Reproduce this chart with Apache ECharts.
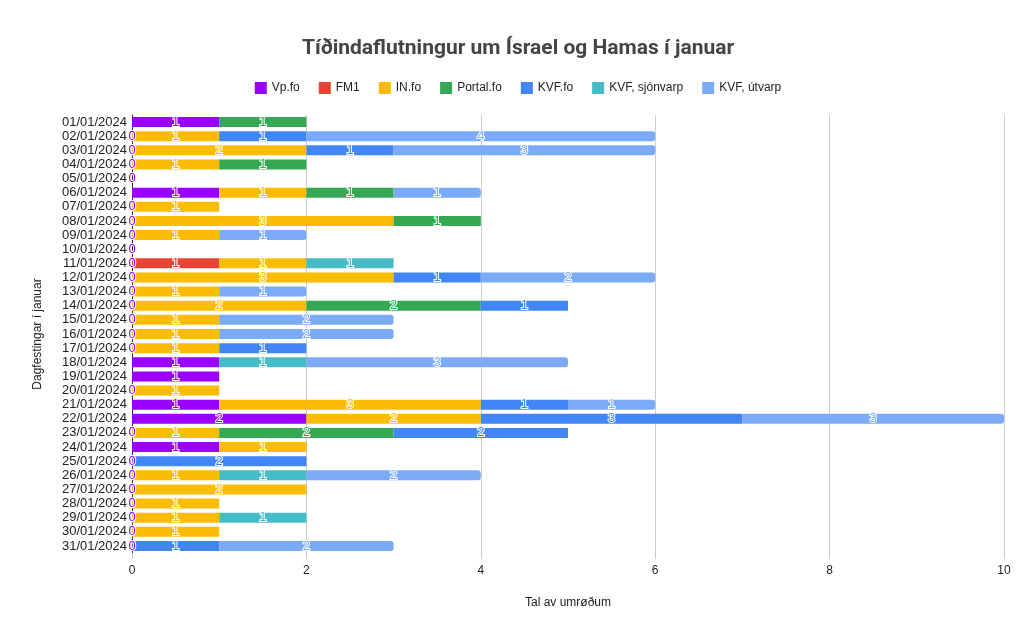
<!DOCTYPE html>
<html>
<head>
<meta charset="utf-8">
<script src="https://cdn.jsdelivr.net/npm/echarts@6/dist/echarts.min.js"></script>
<style>
  html, body { margin: 0; padding: 0; background: #fff; }
  #chart { width: 1036px; height: 640px; }
</style>
</head>
<body>
<div id="chart"></div>
<script>
// dagar í januar
const days = [];
for (let d = 1; d <= 31; d++) {
  days.push((d < 10 ? '0' + d : '' + d) + '/01/2024');
}

// tal av umrøðum per miðil (null = eingin)
const vpFo      = [1,0,0,0,0,1,0,0,0,0,0,0,0,0,0,0,0,1,1,0,1,2,0,1,0,0,0,0,0,0,0];
const fm1       = [null,null,null,null,null,null,null,null,null,null,1,null,null,null,null,null,null,null,null,null,null,null,null,null,null,null,null,null,null,null,null];
const inFo      = [null,1,2,1,null,1,1,3,1,null,1,3,1,2,1,1,1,null,null,1,3,2,1,1,null,1,2,1,1,1,null];
const portalFo  = [1,null,null,1,null,1,null,1,null,null,null,null,null,2,null,null,null,null,null,null,null,null,2,null,null,null,null,null,null,null,null];
const kvfFo     = [null,1,1,null,null,null,null,null,null,null,null,1,null,1,null,null,1,null,null,null,1,3,2,null,2,null,null,null,null,null,1];
const kvfSjon   = [null,null,null,null,null,null,null,null,null,null,1,null,null,null,null,null,null,1,null,null,null,null,null,null,null,1,null,null,1,null,null];
const kvfUtvarp = [null,4,3,null,null,1,null,null,1,null,null,2,1,null,2,2,null,3,null,null,1,3,null,null,null,2,null,null,null,null,2];

const seriesNames = ['Vp.fo', 'FM1', 'IN.fo', 'Portal.fo', 'KVF.fo', 'KVF, sjónvarp', 'KVF, útvarp'];
const seriesData = [vpFo, fm1, inFo, portalFo, kvfFo, kvfSjon, kvfUtvarp];
const colors = ['#9900ff', '#ea4335', '#fbbc04', '#34a853', '#4285f4', '#46bdc6', '#7baaf7'];
const font = 'Arial, "Liberation Sans", sans-serif';

const chart = echarts.init(document.getElementById('chart'));

const series = seriesNames.map(function (name, i) {
  return {
    name: name,
    type: 'bar',
    stack: 'total',
    barWidth: 10,
    itemStyle: {
      color: colors[i],
      borderRadius: i === 6 ? [0, 3, 3, 0] : 0
    },
    label: {
      show: true,
      position: 'inside',
      color: colors[i],
      fontSize: 13,
      fontFamily: font,
      textBorderColor: '#fff',
      textBorderWidth: 2,
      formatter: function (p) { return p.value == null ? '' : String(p.value); }
    },
    data: seriesData[i]
  };
});

chart.setOption({
  animation: false,
  color: colors,
  title: {
    text: 'Tíðindaflutningur um Ísrael og Hamas í januar',
    left: 'center',
    top: 33,
    textStyle: { fontSize: 21, fontWeight: 'bold', color: '#444', fontFamily: 'Roboto' }
  },
  legend: {
    top: 77,
    left: 'center',
    icon: 'rect',
    itemWidth: 12,
    itemHeight: 12,
    itemGap: 19,
    textStyle: { fontSize: 12, color: '#222', fontFamily: font },
    data: seriesNames
  },
  grid: { left: 132, right: 32, top: 115, bottom: 87 },
  xAxis: {
    type: 'value',
    min: 0,
    max: 10,
    interval: 2,
    name: 'Tal av umrøðum',
    nameLocation: 'middle',
    nameGap: 44,
    nameTextStyle: { fontSize: 12, color: '#222', fontFamily: font },
    axisLabel: { fontSize: 12, color: '#222', fontFamily: font, margin: 12 },
    splitLine: { lineStyle: { color: '#ccc' } },
    axisLine: { show: false },
    axisTick: { show: true, length: 6, lineStyle: { color: '#ccc' } }
  },
  yAxis: {
    type: 'category',
    inverse: true,
    data: days,
    name: 'Dagfestingar í januar',
    nameLocation: 'middle',
    nameGap: 88,
    nameTextStyle: { fontSize: 12, color: '#222', fontFamily: font },
    axisLabel: { interval: 0, fontSize: 13, color: '#222', fontFamily: font, margin: 5 },
    axisLine: { lineStyle: { color: '#333' } },
    axisTick: { show: false }
  },
  series: series
});
</script>
</body>
</html>
